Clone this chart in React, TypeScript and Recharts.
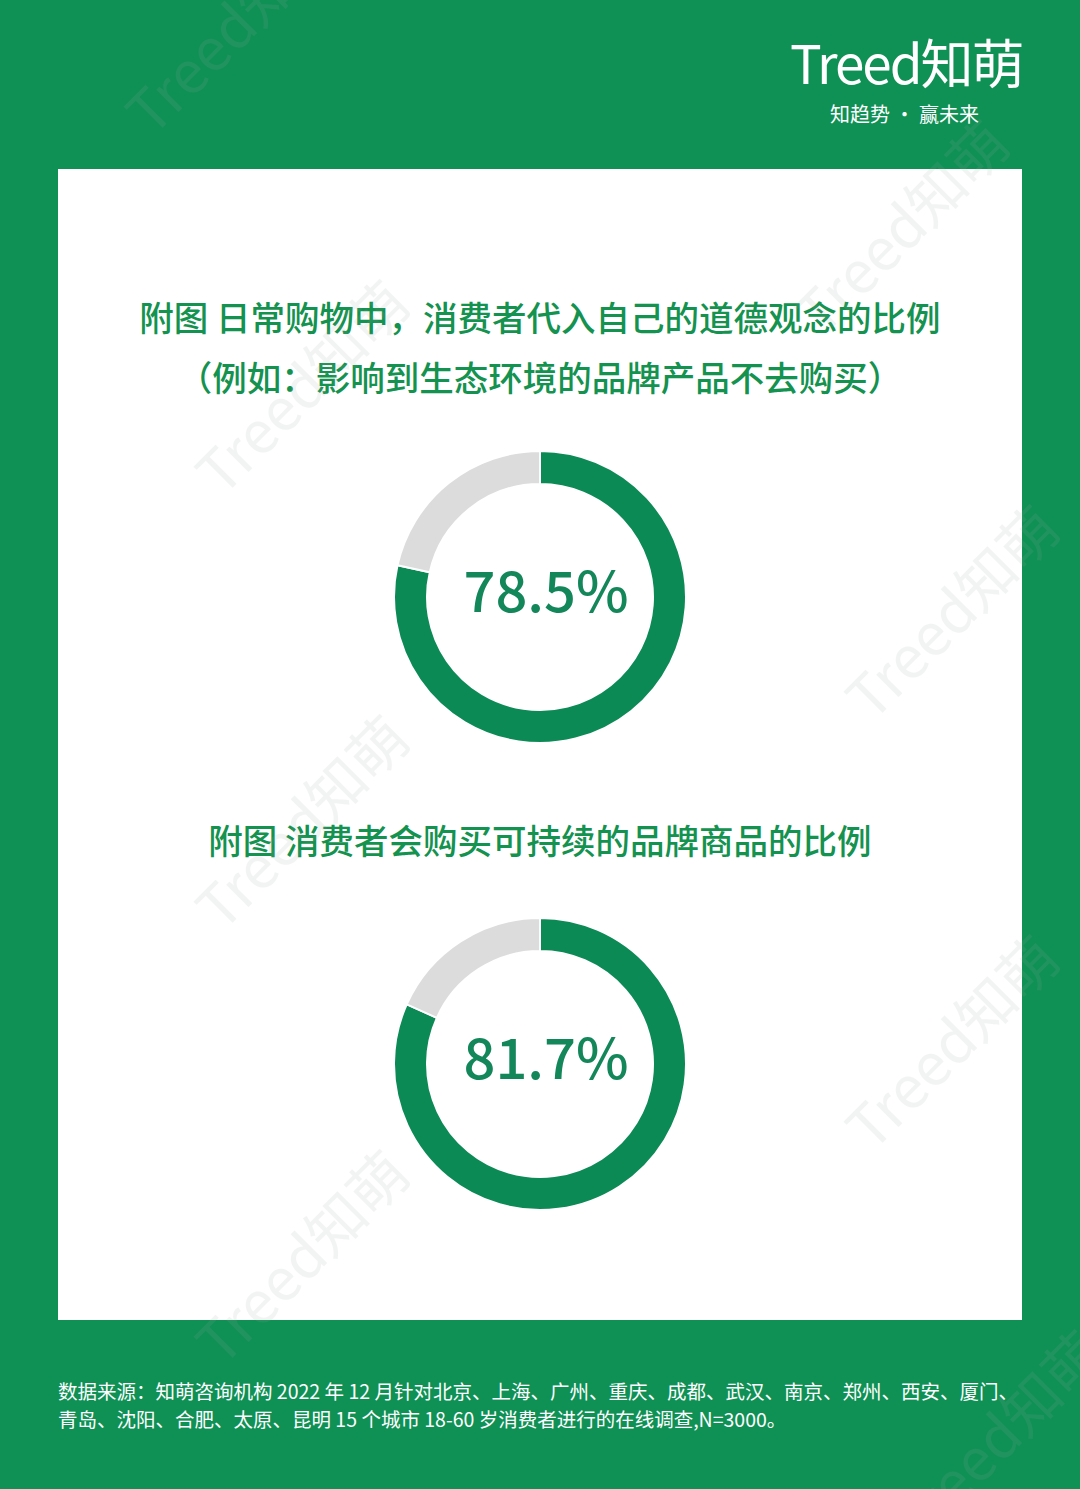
import { PieChart, Pie, Cell, Label } from "recharts";

const charts = [
  {
    title: ["附图 日常购物中，消费者代入自己的道德观念的比例", "（例如：影响到生态环境的品牌产品不去购买）"],
    slices: [
      { name: "是", value: 78.5 },
      { name: "否", value: 21.5 },
    ],
  },
  {
    title: ["附图 消费者会购买可持续的品牌商品的比例"],
    slices: [
      { name: "是", value: 81.7 },
      { name: "否", value: 18.3 },
    ],
  },
];

const sliceColors = ["#0C8A55", "#DCDCDC"];

const footnote = [
  "数据来源：知萌咨询机构 2022 年 12 月针对北京、上海、广州、重庆、成都、武汉、南京、郑州、西安、厦门、",
  "青岛、沈阳、合肥、太原、昆明 15 个城市 18-60 岁消费者进行的在线调查,N=3000。",
];

const watermarks = [
  [230, 25],
  [900, 225],
  [300, 385],
  [950, 610],
  [300, 820],
  [950, 1040],
  [300, 1255],
  [995, 1435],
];

const font = "'Noto Sans CJK SC', 'Noto Sans', sans-serif";
const green = "#0F9155";

function Donut({ slices, left, top }: { slices: { name: string; value: number }[]; left: number; top: number }) {
  return (
    <div style={{ position: "absolute", left, top }}>
      <PieChart width={320} height={320}>
        <Pie
          data={slices}
          dataKey="value"
          cx={160}
          cy={160}
          innerRadius={113}
          outerRadius={146}
          startAngle={90}
          endAngle={-270}
          stroke="#ffffff"
          strokeWidth={2}
          isAnimationActive={false}
        >
          {slices.map((s, i) => (
            <Cell key={s.name} fill={sliceColors[i]} />
          ))}
          <Label
            position="center"
            content={() => (
              <text
                x={171}
                y={180}
                textAnchor="middle"
                fontFamily={font}
                fontSize={56}
                fontWeight={500}
                fill="#14875A"
              >
                {slices[0].value}%
              </text>
            )}
          />
        </Pie>
      </PieChart>
    </div>
  );
}

export default function App() {
  return (
    <div
      style={{
        position: "absolute",
        left: 0,
        top: 0,
        width: 1080,
        height: 1489,
        background: green,
        fontFamily: font,
        overflow: "hidden",
      }}
    >
      {/* logo */}
      <div style={{ position: "absolute", left: 790, top: 28, color: "#fff", fontSize: 53, fontWeight: 400, letterSpacing: -2, lineHeight: "66px" }}>
        Treed知萌
      </div>
      <div style={{ position: "absolute", left: 830, top: 100, color: "#fff", fontSize: 20, lineHeight: "28px" }}>
        知趋势 · 赢未来
      </div>

      {/* card */}
      <div style={{ position: "absolute", left: 58, top: 169, width: 964, height: 1151, background: "#fff" }} />

      <div style={{ position: "absolute", left: 0, width: 1080, top: 286, textAlign: "center", color: "#14924F", fontSize: 34.5, fontWeight: 500, lineHeight: "60px" }}>
        {charts[0].title.map((t) => (
          <div key={t}>{t}</div>
        ))}
      </div>
      <Donut slices={charts[0].slices} left={375} top={432} />

      <div style={{ position: "absolute", left: 0, width: 1080, top: 814, textAlign: "center", color: "#14924F", fontSize: 34.5, fontWeight: 500, lineHeight: "50px" }}>
        {charts[1].title.map((t) => (
          <div key={t}>{t}</div>
        ))}
      </div>
      <Donut slices={charts[1].slices} left={375} top={899} />

      {/* source */}
      <div style={{ position: "absolute", left: 58, top: 1377, color: "#fff", fontSize: 19.5, lineHeight: "28px", whiteSpace: "nowrap" }}>
        {footnote.map((t) => (
          <div key={t}>{t}</div>
        ))}
      </div>

      {/* watermarks */}
      {watermarks.map(([x, y], i) => (
        <div
          key={i}
          style={{
            position: "absolute",
            left: x - 160,
            top: y - 30,
            width: 320,
            textAlign: "center",
            fontSize: 58,
            lineHeight: "60px",
            color: "#9aa5a0",
            opacity: 0.12,
            transform: "rotate(-45deg)",
            pointerEvents: "none",
            whiteSpace: "nowrap",
          }}
        >
          Treed知萌
        </div>
      ))}
    </div>
  );
}
